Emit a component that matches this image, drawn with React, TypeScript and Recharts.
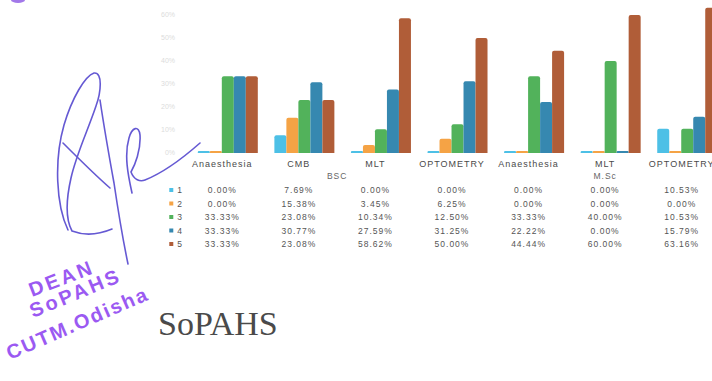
import { Bar, BarChart, XAxis, YAxis } from "recharts";

const CATEGORIES = ["Anaesthesia", "CMB", "MLT", "OPTOMETRY", "Anaesthesia", "MLT", "OPTOMETRY"];
const PROGRAMS = ["BSC", "BSC", "BSC", "BSC", "M.Sc", "M.Sc", "M.Sc"];
const SERIES_NAMES = ["1", "2", "3", "4", "5"];
const S1 = [0, 7.69, 0, 0, 0, 0, 10.53];
const S2 = [0, 15.38, 3.45, 6.25, 0, 0, 0];
const S3 = [33.33, 23.08, 10.34, 12.5, 33.33, 40, 10.53];
const S4 = [33.33, 30.77, 27.59, 31.25, 22.22, 0, 15.79];
const S5 = [33.33, 23.08, 58.62, 50, 44.44, 60, 63.16];
const Y_TICKS = [0, 10, 20, 30, 40, 50, 60, 70];

const SERIES = [S1, S2, S3, S4, S5];
const COLORS = ["#4dc0e6", "#f5a345", "#52b25b", "#3688b0", "#b05d38"];

const CHART_W = 725;
const CHART_H = 261;
const MARGIN_LEFT = 156;
const Y_W = 33;
const BAND = (CHART_W - MARGIN_LEFT - Y_W) / CATEGORIES.length;

const rows = CATEGORIES.map((name, i) => {
  const row: Record<string, string | number> = { name };
  SERIES.forEach((s, k) => {
    row["s" + (k + 1)] = s[i];
  });
  return row;
});

const fmt = (v: number) => v.toFixed(2) + "%";

function TableTick(props: any) {
  const { x, y, payload } = props;
  const i: number = props.index ?? payload.index;
  const cx = x - 5;
  const group = PROGRAMS[i];
  const first = PROGRAMS.indexOf(group);
  const count = PROGRAMS.filter((p) => p === group).length;
  const textStyle = { fontFamily: "Liberation Sans, Arial, sans-serif" };
  return (
    <g>
      <text x={cx} y={y + 14} textAnchor="middle" fontSize={9} letterSpacing={1} fill="#4a4a4a" style={textStyle}>
        {CATEGORIES[i]}
      </text>
      {i === first ? (
        <text
          x={cx + ((count - 1) / 2) * BAND}
          y={y + 26}
          textAnchor="middle"
          fontSize={8.5}
          letterSpacing={1}
          fill="#666"
          style={textStyle}
        >
          {group}
        </text>
      ) : null}
      {SERIES.map((s, k) => (
        <text
          key={k}
          x={cx}
          y={y + 40 + k * 13.5}
          textAnchor="middle"
          fontSize={8.5}
          letterSpacing={1}
          fill="#555"
          style={textStyle}
        >
          {fmt(s[i])}
        </text>
      ))}
      {i === 0
        ? SERIES_NAMES.map((n, k) => (
            <g key={n}>
              <rect x={x - 58} y={y + 40 + k * 13.5 - 5} width={4} height={4} fill={COLORS[k]} />
              <text x={x - 50} y={y + 40 + k * 13.5} fontSize={8.5} fill="#555" style={textStyle}>
                {n}
              </text>
            </g>
          ))
        : null}
    </g>
  );
}

export default function App() {
  return (
    <div
      style={{
        position: "absolute",
        left: 0,
        top: 0,
        width: 712,
        height: 381,
        overflow: "hidden",
        background: "#fff",
      }}
    >
      <div style={{ position: "absolute", left: 0, top: -8 }}>
        <BarChart
          width={CHART_W}
          height={CHART_H}
          data={rows}
          margin={{ top: 0, right: 0, bottom: 0, left: MARGIN_LEFT }}
          barCategoryGap="11.5%"
          barGap={0}
        >
          <XAxis
            dataKey="name"
            interval={0}
            axisLine={false}
            tickLine={false}
            tickSize={0}
            tickMargin={0}
            height={100}
            tick={<TableTick />}
          />
          <YAxis
            width={Y_W}
            domain={[0, 70]}
            ticks={Y_TICKS}
            axisLine={false}
            tickLine={false}
            tickSize={0}
            tickMargin={14}
            tickFormatter={(v: number) => v + "%"}
            tick={{ fontSize: 7, fill: "#dcdcdc", fontFamily: "Liberation Sans, Arial, sans-serif" }}
          />
          {SERIES_NAMES.map((n, k) => (
            <Bar
              key={n}
              dataKey={"s" + (k + 1)}
              name={n}
              fill={COLORS[k]}
              radius={[2, 2, 0, 0]}
              minPointSize={2}
              isAnimationActive={false}
            />
          ))}
        </BarChart>
      </div>
      <svg
        width={712}
        height={381}
        style={{ position: "absolute", left: 0, top: 0, pointerEvents: "none" }}
      >
        <ellipse cx={18} cy={0} rx={7} ry={3} fill="#7a3fe0" opacity={0.7} />
        <g fill="none" stroke="#5548cf" strokeWidth={1.6} strokeLinecap="round" strokeLinejoin="round" opacity={0.9}>
          <path d="M68 230 C 56 205, 54 160, 64 125 C 72 98, 85 76, 94 73 C 103 72, 101 92, 96 106 C 88 130, 76 155, 71 178 C 66 200, 66 220, 72 231 C 85 236, 100 234, 112 229" />
          <path d="M100 100 C 103 120, 108 150, 114 183 C 118 210, 123 240, 128 264" />
          <path d="M63 143 C 78 158, 95 175, 110 188" />
          <path d="M132 193 C 128 175, 124 155, 129 138 C 132 127, 139 125, 140 135 C 141 150, 135 165, 131 172 C 134 180, 140 182, 145 180 C 165 172, 183 158, 200 143" />
        </g>
        <g fill="#8a3df0" fontFamily="Liberation Sans, Arial, sans-serif" fontWeight="bold" opacity={0.85}>
          <text x={32} y={297} fontSize={20} letterSpacing={3} transform="rotate(-21 32 297)">
            DEAN
          </text>
          <text x={33} y={318} fontSize={20} letterSpacing={3} transform="rotate(-22.5 33 318)">
            SoPAHS
          </text>
          <text x={10} y={360} fontSize={20} letterSpacing={2} transform="rotate(-23.5 10 360)">
            CUTM.Odisha
          </text>
        </g>
        <text x={158} y={335} fontSize={34} fill="#4a4a4a" fontFamily="Liberation Serif, Times New Roman, serif">
          SoPAHS
        </text>
      </svg>
    </div>
  );
}
